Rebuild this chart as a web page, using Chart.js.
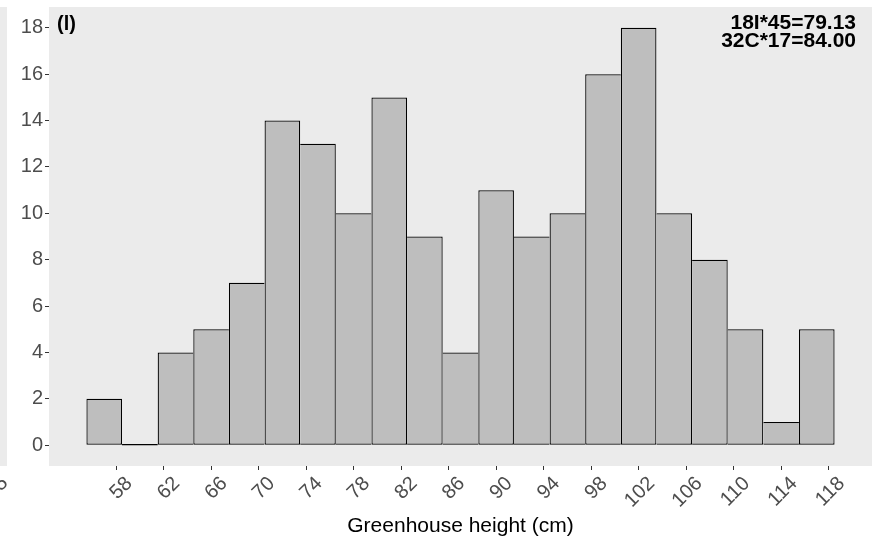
<!DOCTYPE html>
<html>
<head>
<meta charset="utf-8">
<script src="https://cdn.jsdelivr.net/npm/chart.js@4/dist/chart.umd.min.js"></script>
<style>
  html, body { margin: 0; padding: 0; background: #ffffff; }
  canvas { display: block; }
</style>
</head>
<body>
<canvas id="hist" width="873" height="542"></canvas>
<script>
// Histogram of greenhouse height, 3 cm bins
const binCenters = [57, 60, 63, 66, 69, 72, 75, 78, 81, 84, 87, 90, 93, 96, 99, 102, 105, 108, 111, 114, 117];
const counts     = [2, 0, 4, 5, 7, 14, 13, 10, 15, 9, 4, 11, 9, 10, 16, 18, 10, 8, 5, 1, 5];
const binWidth = 3;
const xTicks = [58, 62, 66, 70, 74, 78, 82, 86, 90, 94, 98, 102, 106, 110, 114, 118];
const yTicks = [0, 2, 4, 6, 8, 10, 12, 14, 16, 18];
const panelTag = '(l)';
const statLines = ['18I*45=79.13', '32C*17=84.00'];
const xTitle = 'Greenhouse height (cm)';

const FONT = '"Liberation Sans", Arial, sans-serif';
const TICK_COLOR = '#4D4D4D';
const EDGE = 1.25;

// x range padded by 5% of the binned range on both sides
const xLo = binCenters[0] - binWidth / 2;
const xHi = binCenters[binCenters.length - 1] + binWidth / 2;
const xPad = (xHi - xLo) * 0.05;
const yMax = Math.max(...counts);
const yPad = yMax * 0.05;

const panelPlugin = {
  id: 'panelPlugin',
  beforeDraw(chart) {
    const { ctx, chartArea: a } = chart;
    ctx.save();
    ctx.fillStyle = '#EBEBEB';
    ctx.fillRect(a.left, a.top, a.right - a.left, a.bottom - a.top);
    // edge of the neighbouring panel
    ctx.fillRect(0, a.top, 7, a.bottom - a.top);
    ctx.restore();
  },
  afterDatasetsDraw(chart) {
    const { ctx } = chart;
    const xs = chart.scales.x, ys = chart.scales.y;
    const y0 = ys.getPixelForValue(0);
    ctx.save();
    ctx.strokeStyle = '#000000';
    ctx.lineWidth = EDGE;
    counts.forEach((c, i) => {
      if (c === 0) {
        ctx.beginPath();
        ctx.moveTo(xs.getPixelForValue(binCenters[i] - binWidth / 2), y0 - EDGE / 2);
        ctx.lineTo(xs.getPixelForValue(binCenters[i] + binWidth / 2), y0 - EDGE / 2);
        ctx.stroke();
      }
    });
    ctx.restore();
  },
  afterDraw(chart) {
    const { ctx, chartArea: a } = chart;
    ctx.save();
    ctx.fillStyle = '#000000';
    ctx.font = 'bold 20px ' + FONT;
    ctx.textBaseline = 'alphabetic';
    ctx.textAlign = 'left';
    ctx.fillText(panelTag, a.left + 8, a.top + 23);
    ctx.font = 'bold 21px ' + FONT;
    ctx.textAlign = 'right';
    ctx.fillText(statLines[0], a.right - 16, a.top + 22);
    ctx.fillText(statLines[1], a.right - 16, a.top + 39.5);
    // clipped tick label of the neighbouring panel
    ctx.fillStyle = TICK_COLOR;
    ctx.font = '20px ' + FONT;
    ctx.translate(5, 480);
    ctx.rotate(-Math.PI / 4);
    ctx.textAlign = 'right';
    ctx.textBaseline = 'middle';
    ctx.fillText('5', 0, 0);
    ctx.restore();
  }
};

const data = {
  datasets: [{
    data: counts.map((c, i) => ({ x: binCenters[i], y: c })),
    backgroundColor: '#BEBEBE',
    borderColor: '#000000',
    borderSkipped: false,
    inflateAmount: 0,
    // each shared edge is drawn once, by the taller neighbour
    borderWidth: (ctx) => {
      const i = ctx.dataIndex;
      const h = counts[i];
      const prev = i > 0 ? counts[i - 1] : -1;
      const next = i < counts.length - 1 ? counts[i + 1] : -1;
      return { top: EDGE, bottom: EDGE, left: prev <= h ? EDGE : 0, right: next < h ? EDGE : 0 };
    },
    barPercentage: 1,
    categoryPercentage: 1
  }]
};

const noScalePadding = (s) => {
  s.paddingTop = 0; s.paddingBottom = 0; s.paddingLeft = 0; s.paddingRight = 0;
};

new Chart(document.getElementById('hist'), {
  type: 'bar',
  data,
  plugins: [panelPlugin],
  options: {
    responsive: false,
    animation: false,
    layout: { padding: { top: 7, right: 1, left: 0, bottom: 0 } },
    plugins: { legend: { display: false }, tooltip: { enabled: false } },
    scales: {
      x: {
        type: 'linear',
        offset: false,
        min: xLo - xPad,
        max: xHi + xPad,
        afterBuildTicks: (s) => { s.ticks = xTicks.map(v => ({ value: v })); },
        afterFit: (s) => { s.height = 76; noScalePadding(s); },
        grid: { display: true, offset: false, drawOnChartArea: false, drawTicks: true, tickLength: 4, tickColor: '#333333', tickWidth: 1 },
        border: { display: false },
        ticks: {
          autoSkip: false,
          minRotation: 45,
          maxRotation: 45,
          padding: 2,
          labelOffset: 13,
          color: TICK_COLOR,
          font: { family: FONT, size: 20 }
        },
        title: {
          display: true,
          text: xTitle,
          color: '#000000',
          font: { family: FONT, size: 21 },
          padding: { top: 0, bottom: 3 }
        }
      },
      y: {
        min: -yPad,
        max: yMax + yPad,
        afterBuildTicks: (s) => { s.ticks = yTicks.map(v => ({ value: v })); },
        afterFit: (s) => { s.width = 49; noScalePadding(s); },
        grid: { display: true, offset: false, drawOnChartArea: false, drawTicks: true, tickLength: 4, tickColor: '#333333', tickWidth: 1 },
        border: { display: false },
        ticks: {
          padding: 2,
          color: TICK_COLOR,
          font: { family: FONT, size: 20 }
        }
      }
    }
  }
});
</script>
</body>
</html>
